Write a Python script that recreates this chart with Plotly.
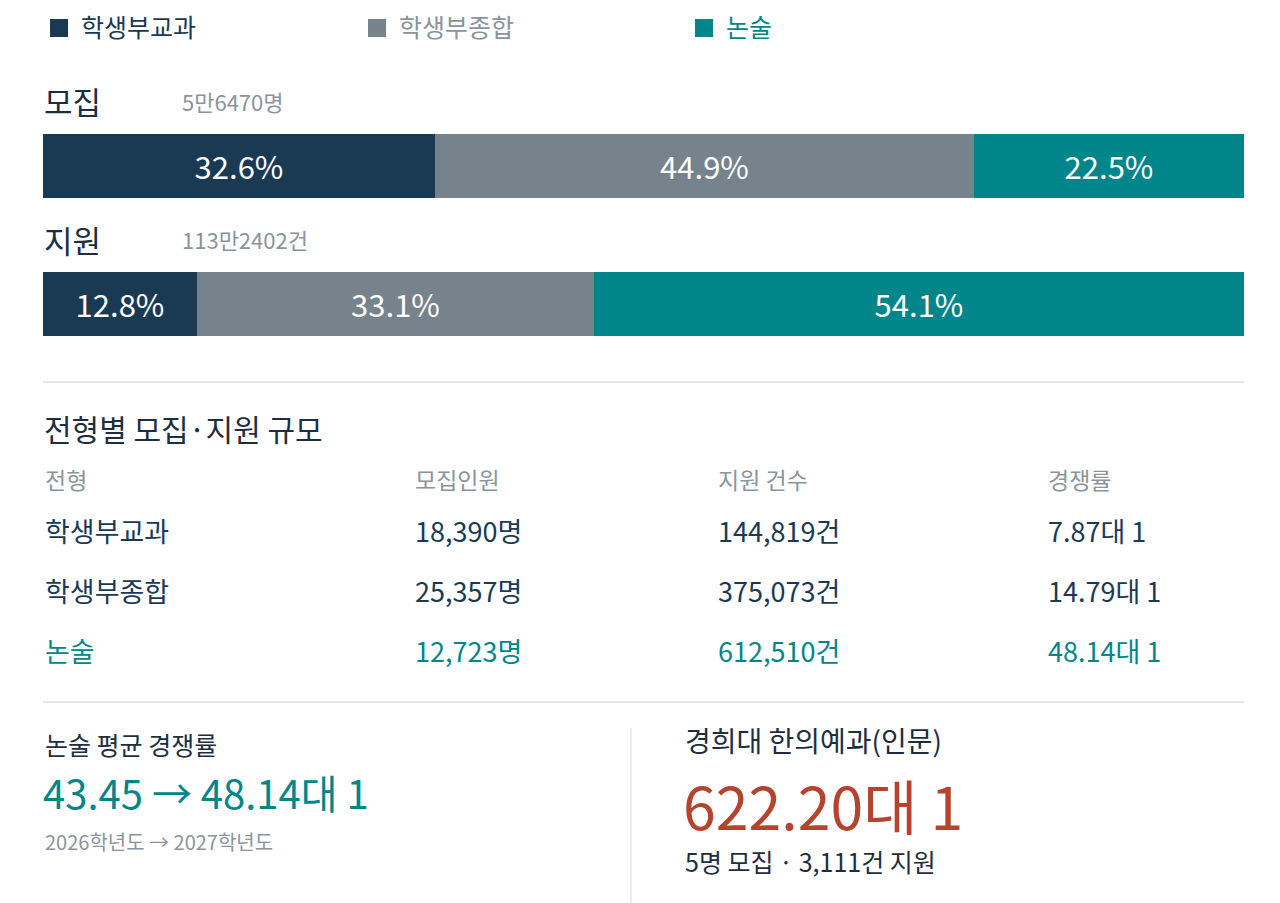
import plotly.graph_objects as go

# page body keeps an 8px margin, so the figure is drawn 8px in from the corner
OFF = 8
W, H = 1280 - OFF, 903 - OFF
FONT = "Noto Sans CJK KR"

# ---- data ----
types = ['학생부교과', '학생부종합', '논술']
colors = ['#1a3a54', '#76838c', '#00868a']
bar_rows = ['모집', '지원']
bar_totals = ['5만6470명', '113만2402건']
share_recruit = [32.6, 44.9, 22.5]
share_apply = [12.8, 33.1, 54.1]

table_title = '전형별 모집·지원 규모'
table_header = ['전형', '모집인원', '지원 건수', '경쟁률']
recruit_n = ['18,390명', '25,357명', '12,723명']
apply_n = ['144,819건', '375,073건', '612,510건']
comp_rate = ['7.87대 1', '14.79대 1', '48.14대 1']

essay_label = '논술 평균 경쟁률'
essay_prev, essay_now = '43.45', '48.14대 1'
essay_years = '2026학년도 → 2027학년도'
top_label = '경희대 한의예과(인문)'
top_rate = '622.20대 1'
top_detail = '5명 모집 · 3,111건 지원'

DARK = '#1c2e40'
NAVY = '#1a3a54'
GRAY = '#8a949c'
TEAL = '#00868a'
RED = '#b5432e'
LINE = '#dde1e4'


def px(x):
    return (x - OFF) / W


def py(y):
    return 1 - (y - OFF) / H


fig = go.Figure()
for i, name in enumerate(types):
    vals = [share_recruit[i], share_apply[i]]
    fig.add_trace(go.Bar(
        y=bar_rows,
        x=vals,
        orientation='h',
        name=name,
        marker=dict(color=colors[i], line=dict(width=0)),
        width=0.457,
        text=[f'{v:.1f}%' for v in vals],
        textposition='inside',
        insidetextanchor='middle',
        textfont=dict(family=FONT, size=31, color='white'),
        hoverinfo='skip',
        showlegend=False,
    ))

fig.update_layout(
    width=W, height=H,
    margin=dict(l=0, r=0, t=0, b=0),
    paper_bgcolor='white', plot_bgcolor='white',
    barmode='stack',
    bargap=0,
    font=dict(family=FONT, color=DARK),
    xaxis=dict(range=[0, 100], domain=[px(43), px(1244)], visible=False, fixedrange=True),
    yaxis=dict(range=[1.5, -0.5], domain=[py(372.5), py(96.5)], visible=False, fixedrange=True),
)

ann = []


def text(x, y, s, size, color, box_h=None):
    a = dict(x=px(x), y=py(y - 2), xref='paper', yref='paper', text=s,
             showarrow=False, xanchor='left', yanchor='middle',
             font=dict(family=FONT, size=size, color=color))
    if box_h:
        a['height'] = box_h
    ann.append(a)


# legend
legend_x = [50, 368, 695]
legend_text_color = [NAVY, GRAY, TEAL]
shapes = []
for i, name in enumerate(types):
    x0 = legend_x[i]
    shapes.append(dict(type='rect', xref='paper', yref='paper',
                       x0=px(x0), x1=px(x0 + 18), y0=py(37), y1=py(19),
                       fillcolor=colors[i], line=dict(width=0)))
    text(x0 + 29, 28, name, 25, legend_text_color[i])

# bar row titles
row_y = [103, 241]
for i, r in enumerate(bar_rows):
    text(42, row_y[i], r, 31, DARK)
    text(180, row_y[i], bar_totals[i], 22, GRAY)

# separators
for yy in [382, 702]:
    shapes.append(dict(type='line', xref='paper', yref='paper',
                       x0=px(43), x1=px(1244), y0=py(yy), y1=py(yy),
                       line=dict(color=LINE, width=1.5)))
shapes.append(dict(type='line', xref='paper', yref='paper',
                   x0=px(631), x1=px(631), y0=py(728), y1=py(903),
                   line=dict(color=LINE, width=1.2)))

# table
col_x = [43, 413, 716, 1046]
text(42, 430, table_title, 30, DARK)
for j, h in enumerate(table_header):
    text(col_x[j], 481, h, 23, GRAY)
row_ys = [532, 592, 652]
for i, name in enumerate(types):
    c = TEAL if i == 2 else NAVY
    cells = [name, recruit_n[i], apply_n[i], comp_rate[i]]
    for j, cell in enumerate(cells):
        text(col_x[j], row_ys[i], cell, 27, c)

# bottom stats
text(43, 746, essay_label, 25, DARK)
text(41, 794, f'{essay_prev} → {essay_now}', 40, TEAL)
text(43, 843, essay_years, 20, GRAY)
text(683, 742, top_label, 28, DARK)
text(681, 806, top_rate, 59, RED, box_h=66)
text(683, 863, top_detail, 25, DARK)

fig.update_layout(annotations=ann, shapes=shapes)

fig.write_html("out.html")
